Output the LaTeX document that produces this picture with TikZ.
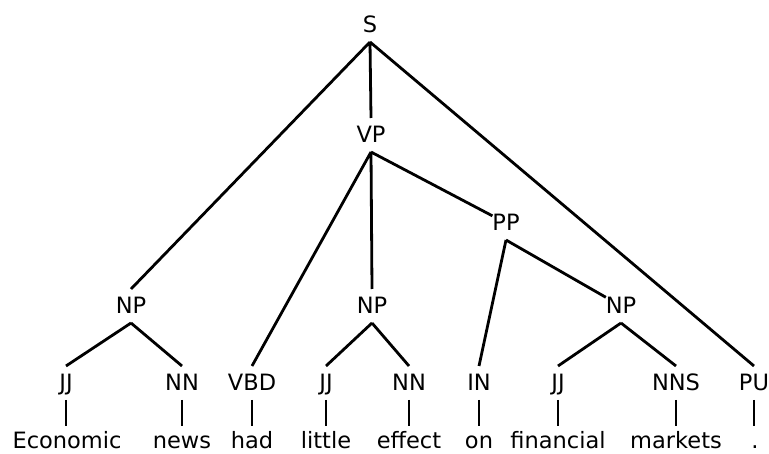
\documentclass[tikz,border=0pt]{standalone}
\usepackage{fontspec}
\setmainfont{DejaVu Sans}
\begin{document}
\begin{tikzpicture}[x=1pt,y=-1pt,
	lbl/.style={anchor=base,font=\fontsize{22.5}{27}\selectfont,text height=16pt,text depth=0pt,
		inner xsep=0pt,inner ysep=9pt,outer sep=0pt},
	word/.style={lbl,text height=23pt,inner ysep=0pt},
	branch/.style={line width=2.8pt}]
\useasboundingbox (0,0) rectangle (769,454);
% phrase labels
\draw 	(370,33) node[lbl](s){S}   (371,143) node[lbl](vp){VP}   (506,231) node[lbl](pp){PP};
\draw 	(131,314) node[lbl](np1){NP}   (372,314) node[lbl](np2){NP}   (621,314) node[lbl](np3){NP};
% part-of-speech tags
\draw 	(66,391) node[lbl](jj1){JJ}   (182,391) node[lbl](nn1){NN}   (252,391) node[lbl](vbd){VBD}
		(326,391) node[lbl](jj2){JJ}   (409,391) node[lbl](nn2){NN}   (479,391) node[lbl](in){IN}
		(558,391) node[lbl](jj3){JJ}   (676,391) node[lbl](nns){NNS}   (754,391) node[lbl](pu){PU};
% words
\draw 	(67,449) node[word](w1){Economic}   (182,449) node[word](w2){news}   (252,449) node[word](w3){had}
		(326,449) node[word](w4){little}   (409,449) node[word](w5){effect}   (479,449) node[word](w6){on}
		(558,449) node[word](w7){financial}   (676,449) node[word](w8){markets}   (755,449) node[word](w9){.};
% branches
\draw[branch] (s.south) -- (np1.north)  (s.south) -- (vp.north)  (s.south) -- (pu.north);
\draw[branch] (vp.south) -- (vbd.north)  (vp.south) -- (np2.north)  (vp.south) -- (pp);
\draw[branch] (pp.south) -- (in.north)  (pp.south) -- (np3);
\draw[branch] (np1.south) -- (jj1.north)  (np1.south) -- (nn1.north);
\draw[branch] (np2.south) -- (jj2.north)  (np2.south) -- (nn2.north);
\draw[branch] (np3.south) -- (jj3.north)  (np3.south) -- (nns.north);
\foreach \t/\w in {jj1/w1,nn1/w2,vbd/w3,jj2/w4,nn2/w5,in/w6,jj3/w7,nns/w8,pu/w9}
	\draw[branch] (\t.south) -- (\t.south |- \w.north);
\end{tikzpicture}
\end{document}
